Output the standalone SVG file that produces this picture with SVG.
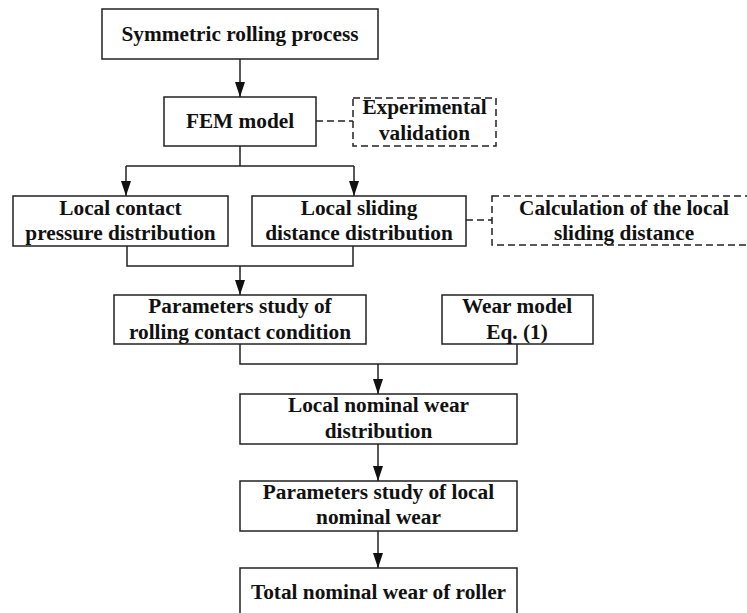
<svg xmlns="http://www.w3.org/2000/svg" width="747" height="613" viewBox="0 0 747 613">
<defs>
<style>
.box{fill:#fff;stroke:#222;stroke-width:1.5}
.dbox{fill:#fff;stroke:#222;stroke-width:1.5;stroke-dasharray:7,4}
.ln{fill:none;stroke:#222;stroke-width:1.5}
.dl{fill:none;stroke:#222;stroke-width:1.5;stroke-dasharray:7,4}
text{font-family:"Liberation Serif","Times New Roman",serif;font-weight:bold;font-size:21.3px;fill:#111;text-anchor:middle}
</style>
<marker id="ad" markerUnits="userSpaceOnUse" markerWidth="16" markerHeight="12" viewBox="0 0 16 12" refX="15" refY="6" orient="auto">
<path d="M0,1 L15,6 L0,11 Z" fill="#111"/>
</marker>
</defs>
<rect width="747" height="613" fill="#fff"/>
<g id="connectors">
<path class="ln" d="M240,59 V97" marker-end="url(#ad)"/>
<path class="ln" d="M240,146 V166 M126,166 H354"/>
<path class="ln" d="M126,166 V196" marker-end="url(#ad)"/>
<path class="ln" d="M354,166 V196" marker-end="url(#ad)"/>
<path class="ln" d="M127,246 V266 H353 V246"/>
<path class="ln" d="M240,266 V295" marker-end="url(#ad)"/>
<path class="ln" d="M240,344 V364 H517 V344"/>
<path class="ln" d="M378,364 V394" marker-end="url(#ad)"/>
<path class="ln" d="M378,444 V481" marker-end="url(#ad)"/>
<path class="ln" d="M378,531 V568" marker-end="url(#ad)"/>
<path class="dl" d="M316,121 H353"/>
<path class="dl" d="M466,220 H492"/>
</g>
<g id="n1"><rect class="box" x="102" y="9" width="276" height="50"/><text x="240" y="41">Symmetric rolling process</text></g>
<g id="n2"><rect class="box" x="164" y="97" width="152" height="49"/><text x="240" y="128">FEM model</text></g>
<g id="n3"><rect class="dbox" x="353" y="98" width="143" height="48"/><text x="424.5" y="114">Experimental</text><text x="424.5" y="140">validation</text></g>
<g id="n4"><rect class="box" x="13" y="196" width="215" height="50"/><text x="120.5" y="215">Local contact</text><text x="120.5" y="240">pressure distribution</text></g>
<g id="n5"><rect class="box" x="252" y="196" width="214" height="50"/><text x="359" y="215">Local sliding</text><text x="359" y="240">distance distribution</text></g>
<g id="n6"><rect class="dbox" x="492" y="196" width="262" height="49"/><text x="624" y="215">Calculation of the local</text><text x="624" y="240">sliding distance</text></g>
<g id="n7"><rect class="box" x="114" y="295" width="252" height="49"/><text x="240" y="313">Parameters study of</text><text x="240" y="339">rolling contact condition</text></g>
<g id="n8"><rect class="box" x="442" y="295" width="151" height="49"/><text x="517" y="313">Wear model</text><text x="517" y="339">Eq. (1)</text></g>
<g id="n9"><rect class="box" x="240" y="394" width="277" height="50"/><text x="378.5" y="412">Local nominal wear</text><text x="378.5" y="438">distribution</text></g>
<g id="n10"><rect class="box" x="240" y="481" width="277" height="50"/><text x="378.5" y="499">Parameters study of local</text><text x="378.5" y="524">nominal wear</text></g>
<g id="n11"><rect class="box" x="240" y="568" width="277" height="60"/><text x="378.5" y="599">Total nominal wear of roller</text></g>
</svg>
